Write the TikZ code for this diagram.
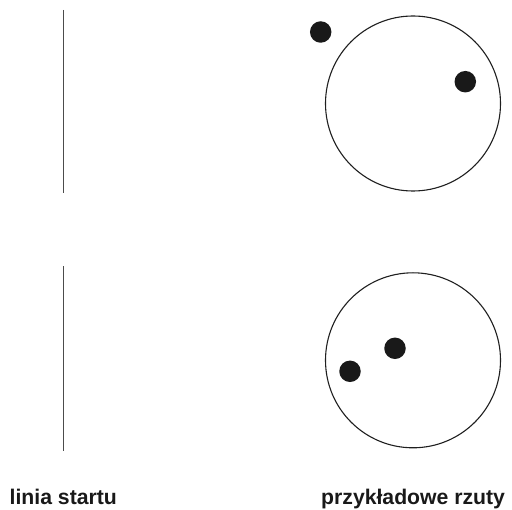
\documentclass[tikz,border=0pt]{standalone}
\usepackage{fontspec}
\setmainfont{Liberation Sans}
\begin{document}
\begin{tikzpicture}[x=1pt,y=-1pt,
  ring/.style={draw=black!88,line width=1.1pt,circle,minimum size=175pt,inner sep=0pt},
  ball/.style={fill=black!90,circle,minimum size=21.5pt,inner sep=0pt},
  startline/.style={draw=black!70,line width=1.1pt},
  lbl/.style={anchor=base west,inner sep=0pt,font=\fontsize{21.2}{24}\selectfont\bfseries,text=black!90}]
\useasboundingbox (0,0) rectangle (512,510);
% start lines
\coordinate (l1a) at (63.8,10);
\coordinate (l1b) at (63.8,193);
\coordinate (l2a) at (63.8,266.5);
\coordinate (l2b) at (63.8,451);
\draw[startline] (l1a) -- (l1b);
\draw[startline] (l2a) -- (l2b);
% circles
\node[ring] (c1) at (413,103.5) {};
\node[ring] (c2) at (413,360.3) {};
% balls
\node[ball] (b1) at (320.7,32) {};
\node[ball] (b2) at (465.3,81.7) {};
\node[ball] (b3) at (395,348.3) {};
\node[ball] (b4) at (350,371.3) {};
% labels
\node[lbl] (t1) at (9.5,504.5) {linia startu};
\node[lbl] (t2) at (321,504.5) {przykładowe rzuty};
\end{tikzpicture}
\end{document}
